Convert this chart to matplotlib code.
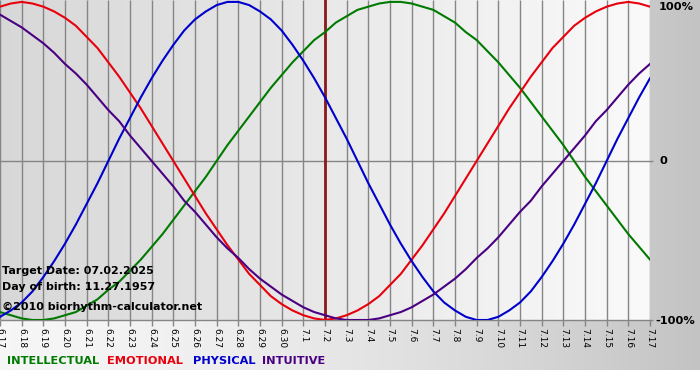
import numpy as np
import matplotlib
matplotlib.use("Agg")
import matplotlib.pyplot as plt

# days shown on the x axis
days = ["6.17", "6.18", "6.19", "6.20", "6.21", "6.22", "6.23", "6.24", "6.25", "6.26",
        "6.27", "6.28", "6.29", "6.30", "7.1", "7.2", "7.3", "7.4", "7.5", "7.6",
        "7.7", "7.8", "7.9", "7.10", "7.11", "7.12", "7.13", "7.14", "7.15", "7.16", "7.17"]
target_day = "7.2"

# cycle values (-1 .. 1), read every half day from 6.17 to 7.17
intellectual = [-0.95, -0.97, -0.99, -1.00, -1.00, -0.99, -0.97, -0.95, -0.91, -0.87,
                -0.81, -0.76, -0.69, -0.62, -0.54, -0.46, -0.37, -0.28, -0.19, -0.10,
                0.00, 0.10, 0.19, 0.28, 0.37, 0.46, 0.54, 0.62, 0.69, 0.76,
                0.81, 0.87, 0.91, 0.95, 0.97, 0.99, 1.00, 1.00, 0.99, 0.97,
                0.95, 0.91, 0.87, 0.81, 0.76, 0.69, 0.62, 0.54, 0.46, 0.37,
                0.28, 0.19, 0.10, 0.00, -0.10, -0.19, -0.28, -0.37, -0.46, -0.54,
                -0.62]
emotional = [0.97, 0.99, 1.00, 0.99, 0.97, 0.94, 0.90, 0.85, 0.78, 0.71,
             0.62, 0.53, 0.43, 0.33, 0.22, 0.11, 0.00, -0.11, -0.22, -0.33,
             -0.43, -0.53, -0.62, -0.71, -0.78, -0.85, -0.90, -0.94, -0.97, -0.99,
             -1.00, -0.99, -0.97, -0.94, -0.90, -0.85, -0.78, -0.71, -0.62, -0.53,
             -0.43, -0.33, -0.22, -0.11, 0.00, 0.11, 0.22, 0.33, 0.43, 0.53,
             0.62, 0.71, 0.78, 0.85, 0.90, 0.94, 0.97, 0.99, 1.00, 0.99,
             0.97]
physical = [-0.98, -0.94, -0.89, -0.82, -0.73, -0.63, -0.52, -0.40, -0.27, -0.14,
            0.00, 0.14, 0.27, 0.40, 0.52, 0.63, 0.73, 0.82, 0.89, 0.94,
            0.98, 1.00, 1.00, 0.98, 0.94, 0.89, 0.82, 0.73, 0.63, 0.52,
            0.40, 0.27, 0.14, 0.00, -0.14, -0.27, -0.40, -0.52, -0.63, -0.73,
            -0.82, -0.89, -0.94, -0.98, -1.00, -1.00, -0.98, -0.94, -0.89, -0.82,
            -0.73, -0.63, -0.52, -0.40, -0.27, -0.14, 0.00, 0.14, 0.27, 0.40,
            0.52]
intuitive = [0.92, 0.88, 0.84, 0.79, 0.74, 0.68, 0.61, 0.55, 0.48, 0.40,
             0.32, 0.25, 0.16, 0.08, 0.00, -0.08, -0.16, -0.25, -0.32, -0.40,
             -0.48, -0.55, -0.61, -0.68, -0.74, -0.79, -0.84, -0.88, -0.92, -0.95,
             -0.97, -0.99, -1.00, -1.00, -1.00, -0.99, -0.97, -0.95, -0.92, -0.88,
             -0.84, -0.79, -0.74, -0.68, -0.61, -0.55, -0.48, -0.40, -0.32, -0.25,
             -0.16, -0.08, 0.00, 0.08, 0.16, 0.25, 0.32, 0.40, 0.48, 0.55,
             0.61]

series_names = ["INTELLECTUAL", "EMOTIONAL", "PHYSICAL", "INTUITIVE"]
series_colors = ["#007a00", "#e8000c", "#0000cc", "#4a0082"]

W, H = 700, 380
PW, PH = 650, 320   # plot area in pixels

fig = plt.figure(figsize=(W / 100, H / 100), dpi=100)

# background: gradients built as a pixel image
bg = np.ones((H, W))
bg[:370, :] = 0.965 - 0.2 * (np.arange(W) / (W - 1)) ** 1.6
bg[:PH, :PW] = 0.845 + 0.135 * (np.arange(PW) / (PW - 1))
bg_ax = fig.add_axes([0, 0, 1, 1])
bg_ax.imshow(np.dstack([bg] * 3), aspect="auto", interpolation="nearest")
bg_ax.axis("off")

ax = fig.add_axes([0, 1 - PH / H, PW / W, PH / H])
ax.patch.set_alpha(0)
x = np.arange(len(days))
ax.set_xlim(0, len(days) - 1)
ax.set_ylim(-1.0, 1.012)

ax.vlines(x, -1, 1.012, colors="#858585", lw=1, zorder=1)
ax.hlines([0, -1], 0, len(days) - 1 + 3 / 21.67, colors="#858585", lw=1, clip_on=False, zorder=1)
ax.axvline(days.index(target_day), color="#8b1a1a", lw=2, zorder=2)

for vals, col in zip([intellectual, emotional, physical, intuitive], series_colors):
    xs = np.arange(len(vals)) * (len(days) - 1) / (len(vals) - 1)
    ax.plot(xs, vals, color=col, lw=1.5, zorder=3, solid_joinstyle="round")

for s in ax.spines.values():
    s.set_visible(False)
ax.set_yticks([])
ax.set_xticks(x)
ax.set_xticklabels(days, rotation=270, fontsize=6.5, color="black")
ax.tick_params(axis="x", length=4, width=1, color="#858585", pad=2)


def px(xp, yp):
    return xp / W, 1 - yp / H


fig.text(*px(659, 7), "100%", fontsize=8.2, fontweight="bold", va="center", ha="left")
fig.text(*px(659, 161), "0", fontsize=8.2, fontweight="bold", va="center", ha="left")
fig.text(*px(655, 321), "-100%", fontsize=8.2, fontweight="bold", va="center", ha="left")

fig.text(*px(2, 271), "Target Date: 07.02.2025", fontsize=8.0, fontweight="bold", va="center")
fig.text(*px(2, 287), "Day of birth: 11.27.1957", fontsize=8.0, fontweight="bold", va="center")
fig.text(*px(2, 307), "\u00a92010 biorhythm-calculator.net", fontsize=8.0, fontweight="bold", va="center")

for name, col, xp in zip(series_names, series_colors, [7, 107, 193, 262]):
    fig.text(*px(xp, 361), name, color=col, fontsize=8.2, fontweight="bold", va="center")

fig.savefig("out.png", dpi=100)
